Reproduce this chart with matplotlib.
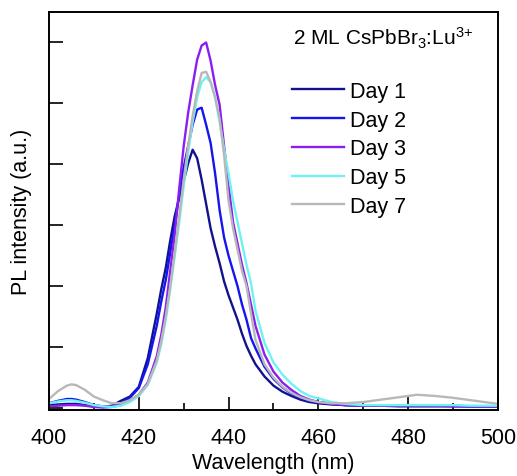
import numpy as np
import matplotlib
matplotlib.use('Agg')
import matplotlib.pyplot as plt
from matplotlib.ticker import MultipleLocator

plt.rcParams['font.family'] = ['Liberation Sans', 'DejaVu Sans']
plt.rcParams['mathtext.default'] = 'regular'

# wavelength grid (nm)
wavelength = [400, 402, 404, 405, 406, 408, 410, 412, 414, 416, 418, 420, 422, 424,
              425, 426, 427, 428, 429, 430, 431, 432, 433, 434, 435, 436, 437, 438,
              439, 440, 441, 442, 443, 444, 445, 446, 448, 450, 452, 454, 456, 458,
              460, 463, 466, 470, 474, 478, 482, 486, 490, 494, 498, 500]

day1 = [0.05, 0.06, 0.07, 0.07, 0.07, 0.05, 0.03, 0.02, 0.04, 0.12, 0.19, 0.35, 0.82, 1.55,
        1.95, 2.3, 2.75, 3.15, 3.45, 3.72, 4.02, 4.24, 4.1, 3.75, 3.35, 2.95, 2.65, 2.38,
        2.08, 1.85, 1.65, 1.45, 1.22, 1.02, 0.86, 0.72, 0.52, 0.37, 0.27, 0.2, 0.14, 0.1,
        0.08, 0.06, 0.05, 0.04, 0.04, 0.03, 0.03, 0.03, 0.03, 0.03, 0.03, 0.03]

day2 = [0.08, 0.12, 0.15, 0.15, 0.14, 0.1, 0.05, 0.03, 0.03, 0.08, 0.17, 0.33, 0.72, 1.35,
        1.75, 2.1, 2.55, 3.0, 3.5, 3.95, 4.3, 4.65, 4.9, 4.93, 4.65, 4.35, 3.85, 3.25,
        2.8, 2.5, 2.25, 2.0, 1.7, 1.45, 1.15, 0.98, 0.68, 0.48, 0.34, 0.24, 0.17, 0.12,
        0.1, 0.07, 0.05, 0.04, 0.04, 0.04, 0.04, 0.04, 0.04, 0.03, 0.03, 0.03]

day3 = [0.03, 0.04, 0.05, 0.05, 0.05, 0.04, 0.02, 0.01, 0.02, 0.05, 0.12, 0.22, 0.42, 0.85,
        1.2, 1.65, 2.25, 2.85, 3.6, 4.3, 4.85, 5.3, 5.72, 5.95, 6.0, 5.7, 5.3, 4.98,
        4.3, 3.65, 3.05, 2.7, 2.35, 2.05, 1.7, 1.35, 0.88, 0.6, 0.42, 0.3, 0.2, 0.14,
        0.1, 0.07, 0.05, 0.04, 0.04, 0.04, 0.04, 0.04, 0.03, 0.03, 0.03, 0.03]

day5 = [0.08, 0.11, 0.13, 0.13, 0.12, 0.09, 0.05, 0.03, 0.02, 0.04, 0.1, 0.2, 0.38, 0.75,
        1.05, 1.45, 1.95, 2.5, 3.05, 3.65, 4.2, 4.7, 5.1, 5.35, 5.43, 5.35, 5.1, 4.7,
        4.25, 3.85, 3.4, 3.05, 2.7, 2.35, 2.05, 1.6, 1.07, 0.75, 0.55, 0.4, 0.28, 0.2,
        0.16, 0.1, 0.07, 0.05, 0.05, 0.05, 0.05, 0.05, 0.05, 0.04, 0.04, 0.04]

day7 = [0.15, 0.28, 0.37, 0.39, 0.38, 0.3, 0.19, 0.13, 0.08, 0.08, 0.13, 0.22, 0.4, 0.78,
        1.1, 1.5, 2.0, 2.55, 3.15, 3.75, 4.3, 4.8, 5.2, 5.5, 5.52, 5.35, 5.1, 4.75,
        4.15, 3.4, 2.95, 2.6, 2.25, 2.0, 1.55, 1.12, 0.72, 0.5, 0.35, 0.25, 0.18, 0.13,
        0.1, 0.08, 0.08, 0.1, 0.14, 0.18, 0.22, 0.2, 0.17, 0.13, 0.09, 0.07]

labels = ['Day 1', 'Day 2', 'Day 3', 'Day 5', 'Day 7']
colors = ['#12128f', '#1515f0', '#8a1ff0', '#6ff2f2', '#b8b8b8']
series = [day1, day2, day3, day5, day7]

fig = plt.figure(figsize=(5.17, 4.77), dpi=100)
ax = fig.add_axes([0.0948, 0.1384, 0.8683, 0.8343])

for y, c, lab in zip(series, colors, labels):
    ax.plot(wavelength, y, color=c, lw=1.7, label=lab)

ax.set_xlim(400, 500)
ax.set_ylim(-0.03, 6.5)
ax.xaxis.set_major_locator(MultipleLocator(20))
ax.xaxis.set_minor_locator(MultipleLocator(10))
ax.yaxis.set_major_locator(MultipleLocator(1))
ax.tick_params(axis='x', which='major', direction='in', length=9.5, width=1.2,
               labelsize=15.5, pad=12)
ax.tick_params(axis='x', which='minor', direction='in', length=5, width=1.2)
ax.tick_params(axis='y', which='major', direction='in', length=10, width=1.2,
               labelleft=False)
for s in ax.spines.values():
    s.set_linewidth(1.4)

ax.set_xlabel('Wavelength (nm)', fontsize=15.5, labelpad=3)
ax.set_ylabel('PL intensity (a.u.)', fontsize=15.5, labelpad=12)

fig.text(293 / 517, 1 - 38 / 477, r'2 ML CsPbBr$_{3}$:Lu$^{3{+}}$', fontsize=15,
         va='center', ha='left')

ax.legend(loc='upper left', bbox_to_anchor=(292 / 517, 1 - 82 / 477),
          bbox_transform=fig.transFigure, frameon=False, fontsize=15.5,
          handlelength=2.42, handletextpad=0.28, labelspacing=0.36,
          borderpad=0, borderaxespad=0)

fig.savefig('out.png', dpi=100)
